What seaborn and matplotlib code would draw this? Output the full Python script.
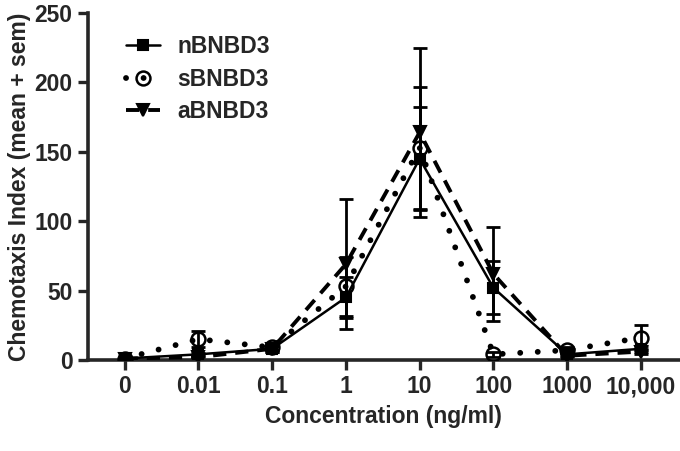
import matplotlib
matplotlib.use("Agg")
import matplotlib.pyplot as plt
import numpy as np
import seaborn as sns

# Konzentrationen (ng/ml) als Kategorien
concentrations = ["0", "0.01", "0.1", "1", "10", "100", "1000", "10,000"]
series_names = ["nBNBD3", "sBNBD3", "aBNBD3"]

n_mean = [1, 4, 8, 45, 145, 52, 4, 8]
n_sem = [0, 1, 2, 15, 37, 19, 1, 2]
s_mean = [1, 15, 9, 53, 153, 4, 7, 16]
s_sem = [0, 6, 2, 21, 44, 2, 2, 9]
a_mean = [1, 2, 8, 69, 164, 62, 3, 6]
a_sem = [0, 1, 2, 47, 61, 34, 1, 2]

sns.set_style("ticks")
plt.rcParams['font.family'] = ['Liberation Sans', 'DejaVu Sans']
plt.rcParams['font.weight'] = 'bold'
plt.rcParams['axes.labelweight'] = 'bold'

FS = 16.5
pos = np.arange(len(concentrations))

fig = plt.figure(figsize=(6.8, 4.51), dpi=100)
ax = fig.add_axes([0.129, 0.202, 0.871, 0.769])

# Stil je Serie: Linie, Marker, Fuellung
styles = {
    "nBNBD3": dict(linestyle="-", linewidth=1.8, marker="s", markersize=7.5,
                   markerfacecolor="black"),
    "sBNBD3": dict(linestyle=(0, (0.01, 3.0)), linewidth=4.2, marker="o",
                   markersize=10, markerfacecolor="none", markeredgewidth=1.8,
                   dash_capstyle="round"),
    "aBNBD3": dict(linestyle=(0, (3.4, 2.3)), linewidth=2.8, marker="v",
                   markersize=8, markerfacecolor="black"),
}

for name, means in zip(series_names, [n_mean, s_mean, a_mean]):
    kw = dict(markeredgecolor="black", markeredgewidth=1.5)
    kw.update(styles[name])
    sns.lineplot(x=pos, y=means, color="black", label=name, ax=ax,
                 zorder=3, **kw)

# Fehlerbalken (mean +/- sem)
for means, sems in zip([n_mean, s_mean, a_mean], [n_sem, s_sem, a_sem]):
    ax.errorbar(pos, means, yerr=sems, fmt="none", ecolor="black",
                elinewidth=2, capsize=5, capthick=2, zorder=2)

ax.set_xlim(-0.5, 7.53)
ax.set_ylim(0, 250)
ax.set_xticks(pos)
ax.set_xticklabels(concentrations)
ax.set_yticks([0, 50, 100, 150, 200, 250])
ax.tick_params(axis="both", labelsize=FS, width=2.4, length=7, direction="out", pad=4)
for lbl in ax.get_xticklabels() + ax.get_yticklabels():
    lbl.set_fontweight("bold")
ax.spines["top"].set_visible(False)
ax.spines["right"].set_visible(False)
ax.spines["left"].set_linewidth(2.6)
ax.spines["bottom"].set_linewidth(2.6)

ax.set_xlabel("Concentration (ng/ml)", fontsize=FS, fontweight="bold", labelpad=5)
ax.set_ylabel("Chemotaxis Index (mean + sem)", fontsize=FS, fontweight="bold", labelpad=2)

leg = ax.legend(loc="upper left", bbox_to_anchor=(0.03, 0.995), frameon=False,
                fontsize=FS, handlelength=1.5, handletextpad=0.75, labelspacing=0.4)
for t in leg.get_texts():
    t.set_fontweight("bold")

fig.savefig("out.png", dpi=100)
